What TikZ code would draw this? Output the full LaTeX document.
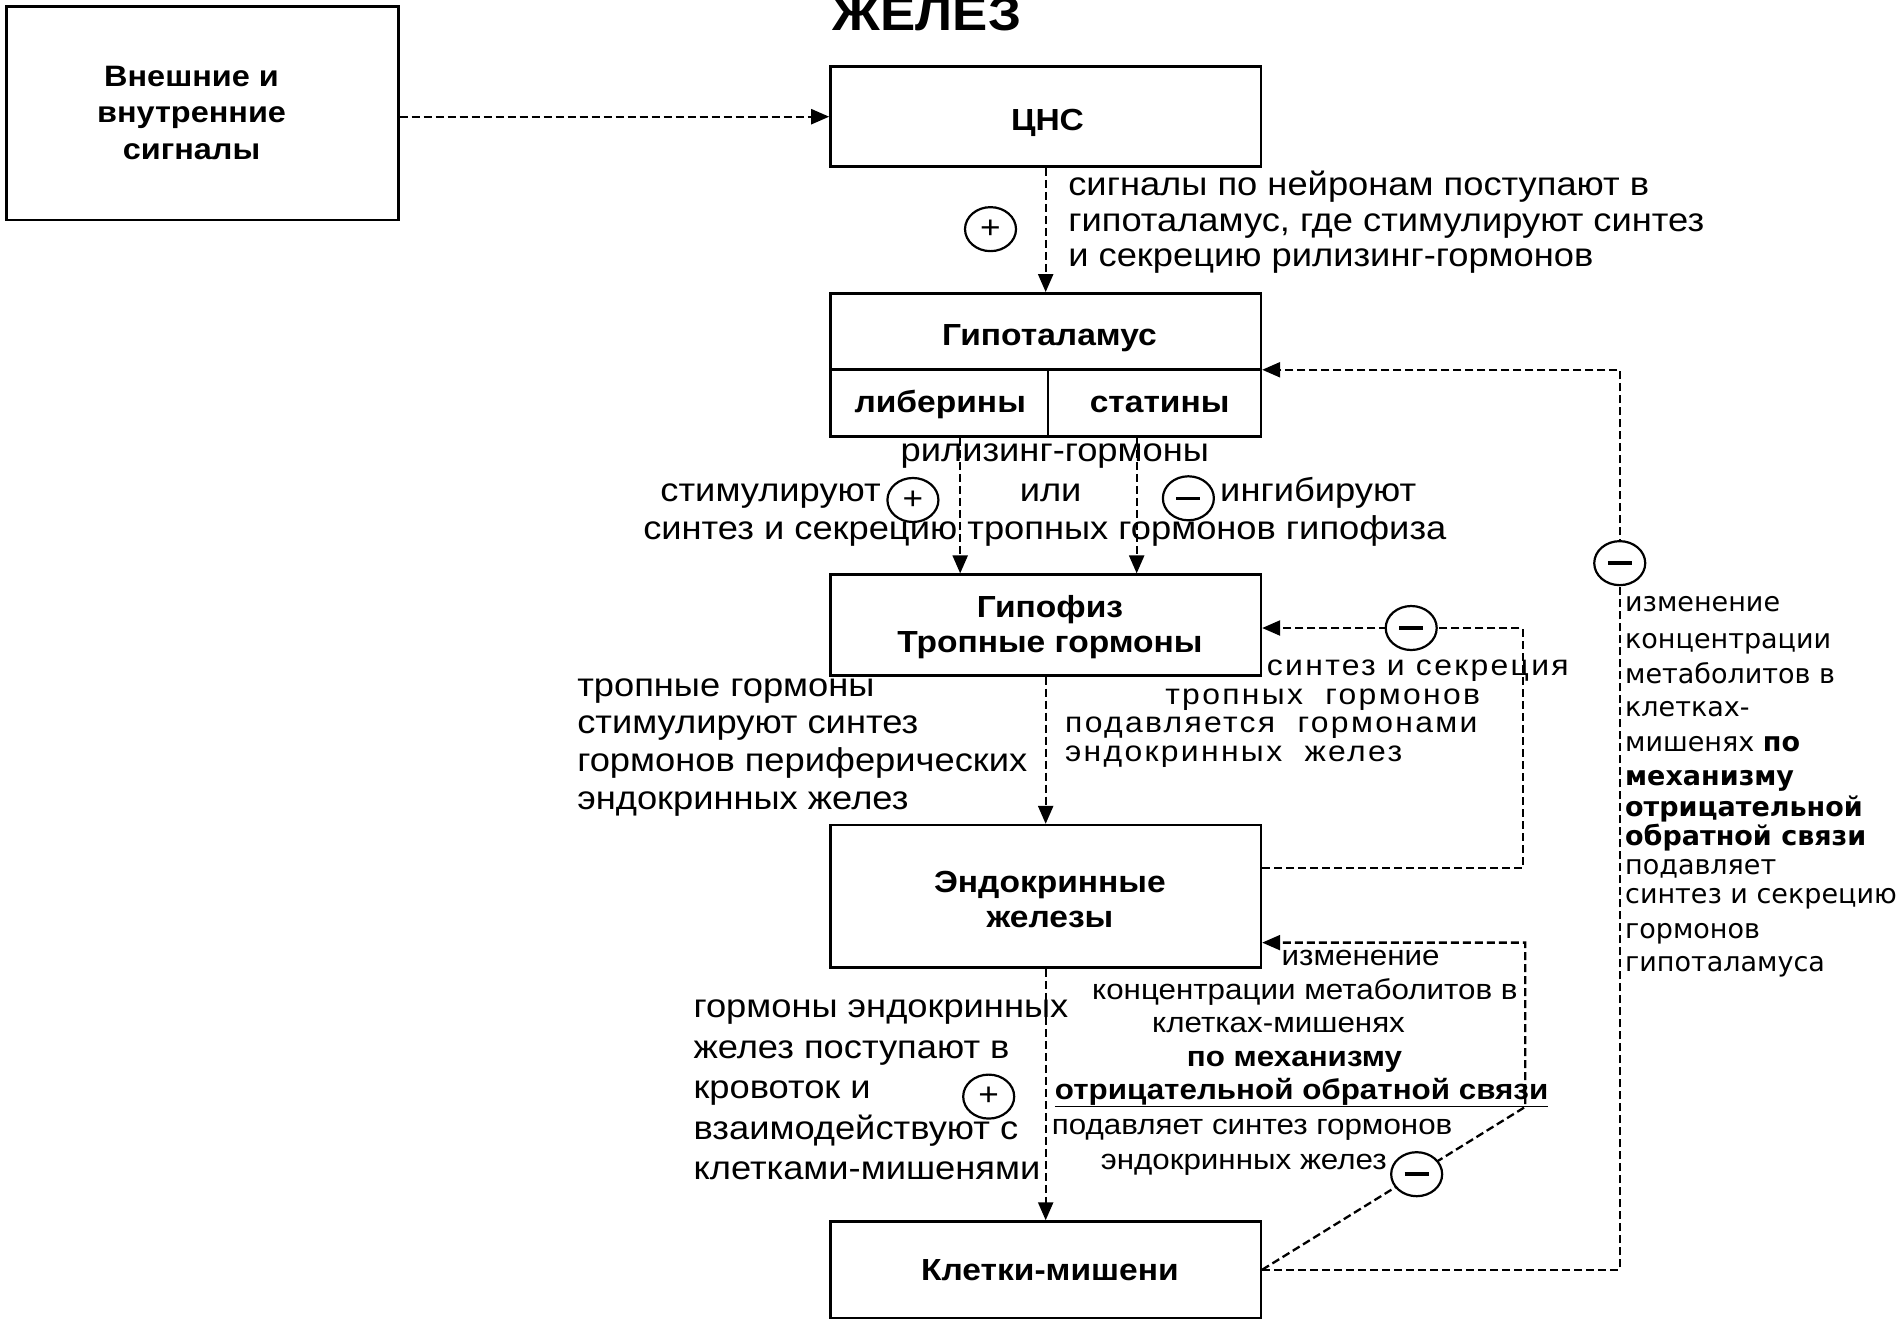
\documentclass[tikz,border=0pt]{standalone}
\usepackage{fontspec}
\setmainfont{Liberation Sans}[FakeStretch=1.1]
\newfontfamily\dvfont{DejaVu Sans}
\newfontfamily\spfont{Liberation Sans}[FakeStretch=1.1, LetterSpace=8]
\usetikzlibrary{arrows.meta,shapes.geometric}
\begin{document}
\begin{tikzpicture}[x=1.2124pt,y=-1.2124pt,
  box/.style={draw, line width=2.6pt, rectangle, inner sep=0pt},
  conn/.style={line width=2.3pt, dash pattern=on 8pt off 4pt, -{Triangle[length=18pt,width=15pt]}},
  sign/.style={ellipse, draw, line width=2.2pt, fill=white, minimum width=51pt, minimum height=44pt, inner sep=0pt, font=\fontsize{32}{32}\selectfont},
  lbl/.style={font=\bfseries\fontsize{30.5}{35}\selectfont, inner sep=0pt, align=center},
  txt/.style={font=\fontsize{33}{36}\selectfont, inner sep=0pt},
  sptxt/.style={font=\spfont\fontsize{29}{30}\selectfont, inner sep=0pt},
  small/.style={font=\fontsize{28.5}{34}\selectfont, inner sep=0pt},
  rcol/.style={font=\dvfont\fontsize{27}{32.7}\selectfont, inner sep=0pt}]
\fill[white] (0,0) rectangle (1568,1090);
\useasboundingbox (0,0) rectangle (1568,1090);

% title
\node[font=\bfseries\fontsize{48}{48}\selectfont, inner sep=0pt, anchor=base] (title) at (764.6,25) {ЖЕЛЕЗ};

% boxes
\node[box, minimum width=391.6pt, minimum height=213.4pt] (ext) at (167,93.5) {};
\node[lbl, font=\bfseries\fontsize{29.5}{36.4}\selectfont] (extT) at (158,93) {Внешние и\\внутренние\\сигналы};
\node[box, minimum width=430.4pt, minimum height=100pt] (cns) at (862.5,96.25) {};
\node[lbl] (cnsT) at (864,101) {ЦНС};
\node[box, minimum width=430.4pt, minimum height=143.1pt] (hyp) at (862.5,301) {};
\coordinate (hv) at (864.5,305);
\draw[line width=2.6pt] (hyp.west |- hv) -- (hyp.east |- hv);
\draw[line width=2.6pt] (hv) -- (hv |- hyp.south);
\node[lbl, anchor=base] (hypT) at (865.6,284.6) {Гипоталамус};
\node[lbl, anchor=base] (lib) at (775.5,340) {либерины};
\node[lbl, anchor=base] (stat) at (956.5,340) {статины};
\node[box, minimum width=430.4pt, minimum height=100.6pt] (pit) at (862.5,515.5) {};
\node[lbl] (pitT) at (866,517) {Гипофиз\\Тропные гормоны};
\node[box, minimum width=430.4pt, minimum height=142.3pt] (endo) at (862.5,739.3) {};
\node[lbl] (endoT) at (866,742) {Эндокринные\\железы};
\node[box, minimum width=430.4pt, minimum height=96.3pt] (tgt) at (862.5,1047.3) {};
\node[lbl] (tgtT) at (866,1048) {Клетки-мишени};

% main connectors
\draw[conn] (ext.east |- cns.west) -- (cns.west);
\draw[conn] (cns.south) -- (hyp.north);
\draw[conn] ([xshift=-85.5pt]hyp.south) -- ([xshift=-85.5pt]pit.north);
\draw[conn] ([xshift=91pt]hyp.south) -- ([xshift=91pt]pit.north);
\draw[conn] (pit.south) -- (endo.north);
\draw[conn] (endo.south) -- (tgt.north);

% feedback to hypothalamus
\coordinate (c1) at (1336,1050);
\coordinate (c2) at (1336,305);
\draw[conn] (tgt.east) -- (tgt.east -| c1) -- (c2) -- (c2 -| hyp.east);
% feedback to pituitary
\coordinate (c3) at (1256,716);
\coordinate (c4) at (1256,518);
\draw[conn] (endo.east |- c3) -- (c3) -- (c4) -- (c4 -| pit.east);
% feedback to endocrine glands
\coordinate (c5) at (1258,913);
\coordinate (c6) at (1258,777.5);
\draw[conn] (tgt.east) -- (c5) -- (c6) -- (c6 -| endo.east);

% signs
\node[sign] (p1) at (817,189) {+};
\node[sign] (p2) at (753,412.4) {+};
\node[sign] (m1) at (980.2,411) {\rule[-1.75pt]{24pt}{3.5pt}};
\node[sign] (m2) at (1164,518) {\rule[-1.75pt]{24pt}{3.5pt}};
\node[sign] (m3) at (1336,464.5) {\rule[-1.75pt]{24pt}{3.5pt}};
\node[sign] (m4) at (1168.5,968.5) {\rule[-1.75pt]{24pt}{3.5pt}};
\node[sign] (p3) at (815.5,904.5) {+};

% texts
\foreach \y/\t [count=\i] in {161/{сигналы по нейронам поступают в}, 191/{гипоталамус, где стимулируют синтез}, 220/{и секрецию рилизинг-гормонов}}
  \node[txt, anchor=base west] (a\i) at (881,\y) {\t};
\node[txt, anchor=base] (rg) at (870,380.8) {рилизинг-гормоны};
\node[txt, anchor=base west] (stim) at (544.6,413.8) {стимулируют};
\node[txt, anchor=base] (ili) at (866.6,413.8) {или};
\node[txt, anchor=base west] (ingib) at (1006.3,413.8) {ингибируют};
\node[txt, anchor=base west] (sint) at (530.4,445.4) {синтез и секрецию тропных гормонов гипофиза};
\foreach \y/\t [count=\i] in {574.6/{тропные гормоны}, 604.8/{стимулируют синтез}, 636.5/{гормонов периферических}, 667.5/{эндокринных желез}}
  \node[txt, anchor=base west] (b\i) at (476,\y) {\t};
\node[sptxt, anchor=base west] (f1) at (1044.8,557) {синтез и секреция};
\node[sptxt, anchor=base west] (f2) at (961,581) {тропных~~гормонов};
\node[sptxt, anchor=base west] (f3) at (878.4,604.5) {подавляется~~гормонами};
\node[sptxt, anchor=base west] (f4) at (878.4,628) {эндокринных~~желез};
\foreach \y/\t [count=\i] in {839/{гормоны эндокринных}, 873/{желез поступают в}, 906/{кровоток и}, 940/{взаимодействуют с}, 973/{клетками-мишенями}}
  \node[txt, anchor=base west] (d\i) at (571.9,\y) {\t};
\node[small, anchor=base west] (e1) at (1057,796) {изменение};
\node[small, anchor=base west] (e2) at (900.7,824.8) {концентрации метаболитов в};
\node[small, anchor=base] (e3) at (1054.6,852) {клетках-мишенях};
\node[small, anchor=base] (e4) at (1067.7,879.8) {\textbf{по механизму}};
\node[small, anchor=base west] (e5) at (870,906.6) {\underline{\textbf{отрицательной обратной связи}}};
\node[small, anchor=base west] (e6) at (867.5,936) {подавляет синтез гормонов};
\node[small, anchor=base west] (e7) at (907.8,965) {эндокринных желез};
\foreach \y/\t [count=\i] in {504.5/{изменение}, 534.8/{концентрации}, 563.6/{метаболитов в}, 591/{клетках-}, 620/{мишенях \textbf{по}}, 647.5/{\textbf{механизму}}, 673.6/{\textbf{отрицательной}}, 697/{\textbf{обратной связи}}, 721.7/{подавляет}, 745/{синтез и секрецию}, 774/{гормонов}, 801.5/{гипоталамуса}}
  \node[rcol, anchor=base west] (r\i) at (1340.3,\y) {\t};
\end{tikzpicture}
\end{document}
